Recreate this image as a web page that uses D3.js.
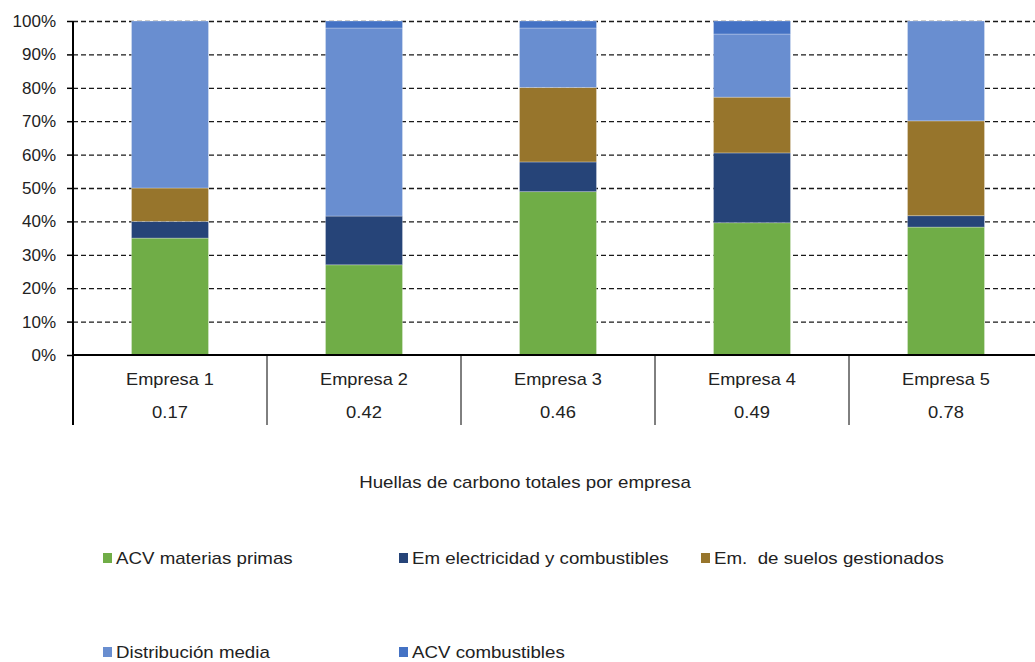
<!DOCTYPE html>
<html><head><meta charset="utf-8">
<script src="https://cdn.jsdelivr.net/npm/d3@7"></script>
<style>body{margin:0;background:#fff}svg{display:block;font-family:"Liberation Sans",Arial,sans-serif}</style>
</head><body><svg id="c" width="1035" height="662"></svg>
<script>
const categories = ["Empresa 1","Empresa 2","Empresa 3","Empresa 4","Empresa 5"];
const totals = ["0.17","0.42","0.46","0.49","0.78"];
const seriesNames = ["ACV materias primas","Em electricidad y combustibles","Em.  de suelos gestionados","Distribución media","ACV combustibles"];
const acvMaterias = [35.0, 27.0, 48.9, 39.6, 38.3];
const emElectricidad = [5.0, 14.6, 8.9, 20.9, 3.4];
const emSuelos = [10.0, 0.0, 22.3, 16.7, 28.4];
const distribucion = [50.0, 56.3, 17.8, 18.9, 29.9];
const acvCombustibles = [0.0, 2.1, 2.1, 3.9, 0.0];
const yTicks = [0,10,20,30,40,50,60,70,80,90,100];
const colors = ["#70AD47","#264478","#97752C","#698ED0","#4472C4"];

(function(){
const seriesValues = [acvMaterias, emElectricidad, emSuelos, distribucion, acvCombustibles];
const rows = categories.map((c,i)=>{const o={cat:c}; seriesNames.forEach((s,j)=>o[s]=seriesValues[j][i]); return o;});
const stack = d3.stack().keys(seriesNames)(rows);

const svg = d3.select("#c");
const L=73, R=1043, T=21, B=355;
const xb = d3.scaleBand().domain(categories).range([L,R]).padding(0);
const barW = xb.bandwidth()*0.397;
const bx = d => xb(d) + (xb.bandwidth()-barW)/2;
const y = d3.scaleLinear().domain([0,100]).range([B,T]);
const stretch = (sel,f) => sel.each(function(){ const w=this.getComputedTextLength(); d3.select(this).attr("textLength",w*f).attr("lengthAdjust","spacingAndGlyphs"); });

// gridlines
svg.append("g").selectAll("line").data(yTicks.filter(t=>t>0)).join("line")
  .attr("x1",L).attr("x2",1035).attr("y1",d=>y(d)+0.5).attr("y2",d=>y(d)+0.5)
  .attr("stroke","#1a1a1a").attr("stroke-width",1.3).attr("stroke-dasharray","5,3");

// bars
svg.append("g").selectAll("g").data(stack).join("g").attr("fill",(d,i)=>colors[i])
  .selectAll("rect").data(d=>d.filter(s=>s[1]-s[0]>0)).join("rect")
  .attr("x",d=>bx(d.data.cat)).attr("width",barW)
  .attr("y",d=>y(d[1])).attr("height",d=>Math.max(0,y(d[0])-y(d[1])))
  .attr("stroke","rgba(255,255,255,0.35)").attr("stroke-width",0.8);

// y axis
const ya = d3.axisLeft(y).tickValues(yTicks).tickFormat(d=>d+"%").tickSize(6).tickSizeOuter(0);
const yg = svg.append("g").attr("transform",`translate(${L},0)`).call(ya);
yg.select(".domain").remove();
yg.selectAll(".tick line").attr("stroke","#000").attr("stroke-width",1.5);
yg.selectAll(".tick text").attr("x",-17).attr("font-size",17).attr("fill","#222").attr("font-family","Liberation Sans, Arial, sans-serif");
svg.append("line").attr("x1",L).attr("x2",L).attr("y1",T).attr("y2",425).attr("stroke","#000").attr("stroke-width",2);
svg.append("line").attr("x1",L).attr("x2",1035).attr("y1",B).attr("y2",B).attr("stroke","#000").attr("stroke-width",2);

// category separators and labels
svg.append("g").selectAll("line").data(categories.slice(1)).join("line")
  .attr("x1",d=>xb(d)).attr("x2",d=>xb(d)).attr("y1",B).attr("y2",425)
  .attr("stroke","#000").attr("stroke-width",1);
svg.append("g").selectAll("text").data(categories).join("text")
  .attr("x",d=>xb(d)+xb.bandwidth()/2).attr("y",385).attr("text-anchor","middle")
  .attr("font-size",17).attr("fill","#222").text(d=>d).call(stretch,1.07);
svg.append("g").selectAll("text").data(totals).join("text")
  .attr("x",(d,i)=>xb(categories[i])+xb.bandwidth()/2).attr("y",418).attr("text-anchor","middle")
  .attr("font-size",17).attr("fill","#222").text(d=>d).call(stretch,1.08);

svg.append("text").attr("x",525).attr("y",488).attr("text-anchor","middle")
  .attr("font-size",17).attr("fill","#222").text("Huellas de carbono totales por empresa").call(stretch,1.1);

// legend
const legPos = [[103,558],[399,558],[701,558],[103,652],[399,652]];
const lg = svg.append("g").selectAll("g").data(seriesNames).join("g")
  .attr("transform",(d,i)=>`translate(${legPos[i][0]},${legPos[i][1]})`);
lg.append("rect").attr("x",0).attr("y",-5).attr("width",9).attr("height",10).attr("fill",(d,i)=>colors[i]);
lg.append("text").attr("x",13).attr("y",6).attr("font-size",17).attr("fill","#222")
  .style("white-space","pre").text(d=>d).call(stretch,1.1);
})();
</script></body></html>
